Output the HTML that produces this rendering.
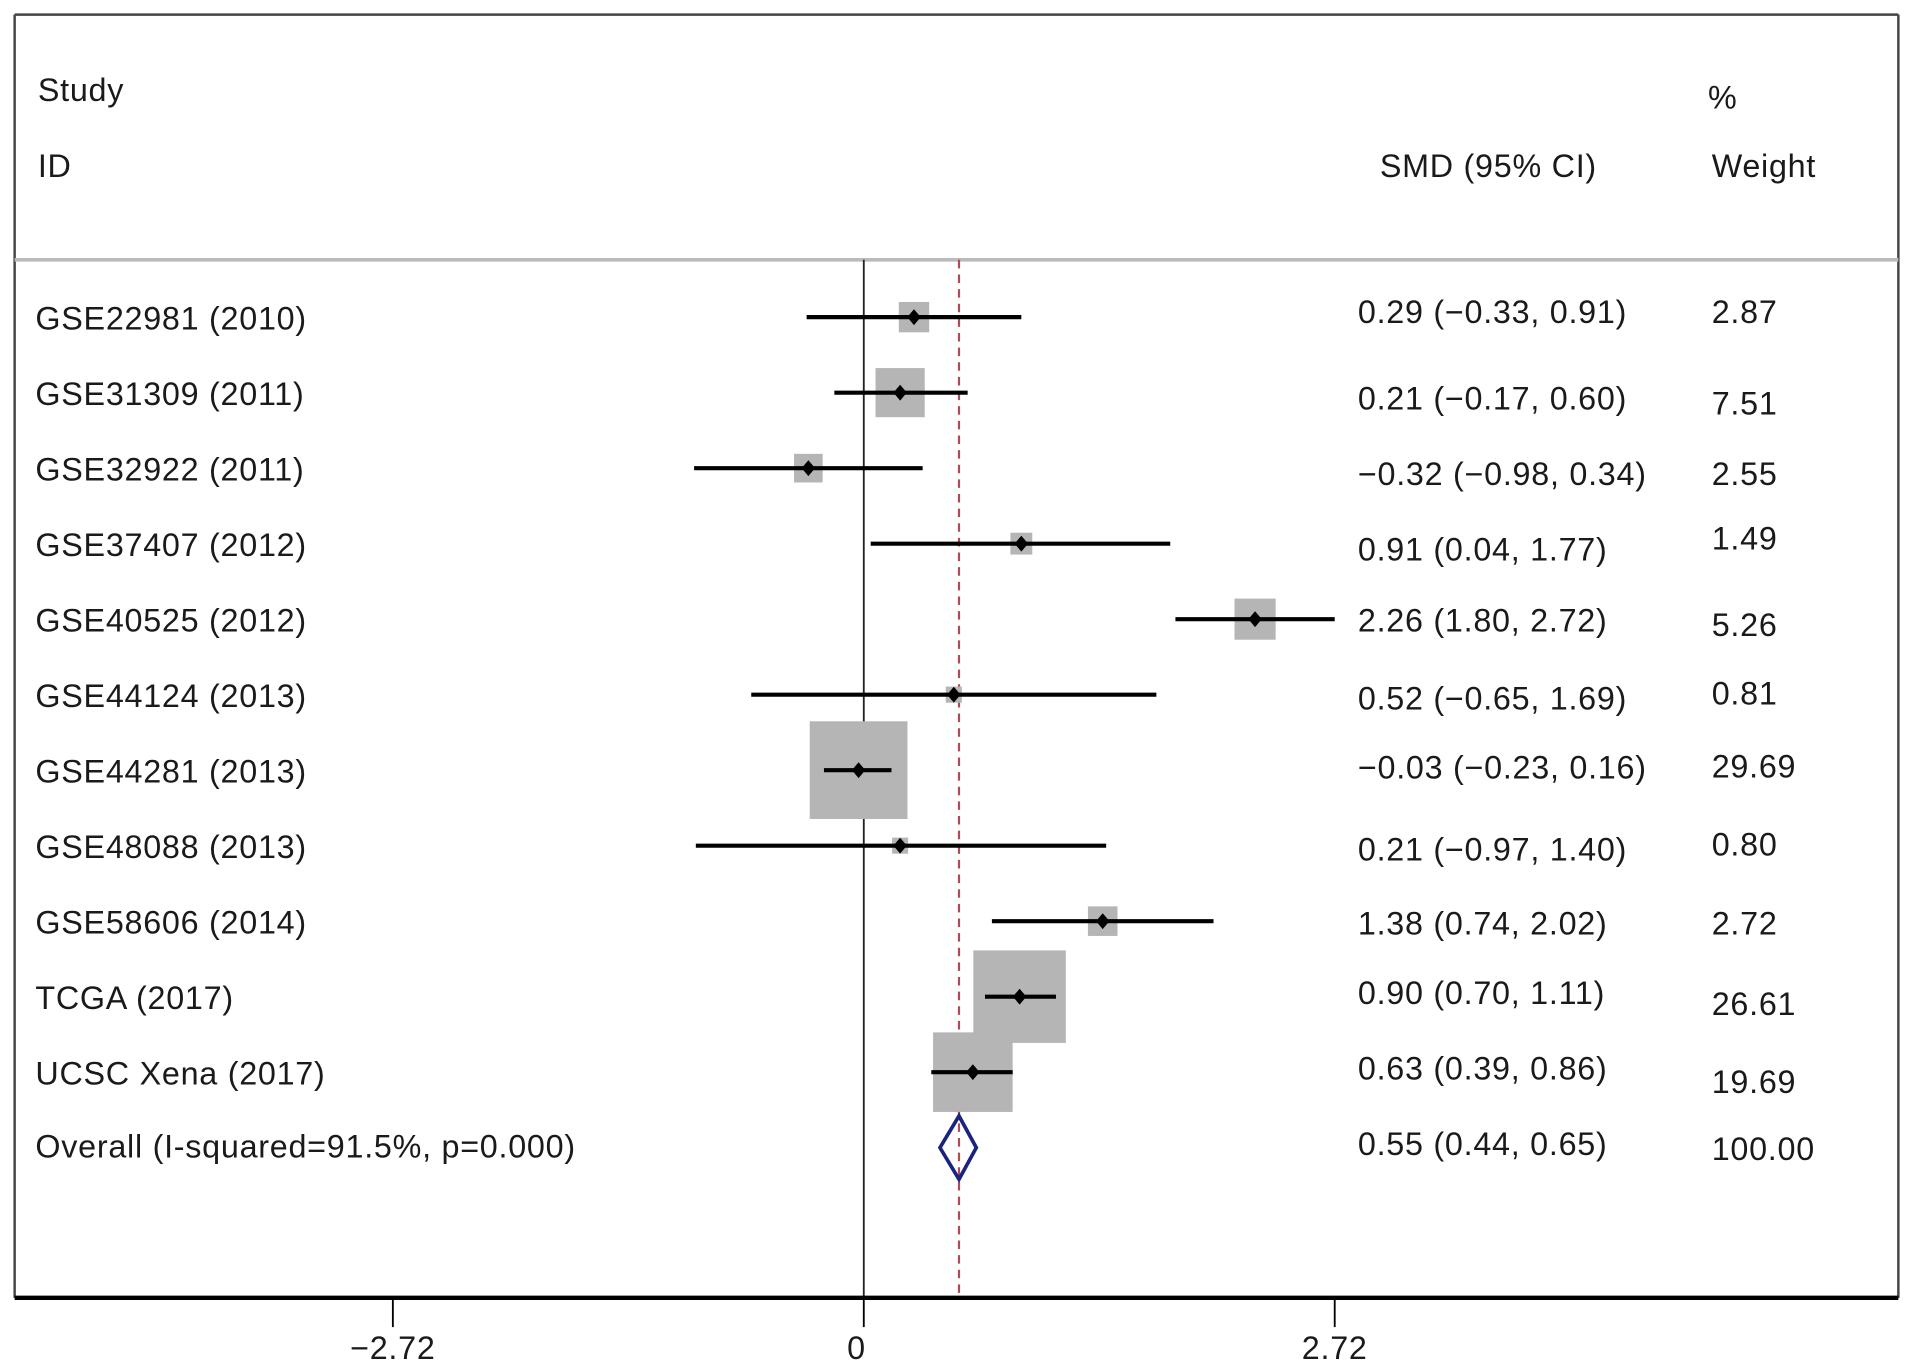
<!DOCTYPE html>
<html><head><meta charset="utf-8"><style>
html,body{margin:0;padding:0;background:#fff;}
svg{display:block;}
text{font-family:"Liberation Sans",Arial,sans-serif;font-size:26.5px;letter-spacing:0.6px;fill:#1a1a1a;}
</style></head><body>
<svg id="chart" width="1913" height="1371" viewBox="0 0 1568 1124" preserveAspectRatio="none" xmlns="http://www.w3.org/2000/svg">
<rect x="0" y="0" width="1568" height="1124" fill="#fff"/>
<line x1="12" y1="12" x2="1556" y2="12" stroke="#444" stroke-width="2"/>
<line x1="12" y1="12" x2="12" y2="1064" stroke="#444" stroke-width="2"/>
<line x1="1556" y1="12" x2="1556" y2="1064" stroke="#444" stroke-width="2"/>
<line x1="12" y1="213" x2="1556" y2="213" stroke="#bbb" stroke-width="3"/>
<text x="31" y="83">Study</text>
<text x="31" y="145">ID</text>
<text x="1131" y="145">SMD (95% CI)</text>
<text x="1400" y="89">%</text>
<text x="1403" y="145">Weight</text>
<g id="plot"></g>
</svg>
<script>
const studies=["GSE22981 (2010)","GSE31309 (2011)","GSE32922 (2011)","GSE37407 (2012)","GSE40525 (2012)","GSE44124 (2013)","GSE44281 (2013)","GSE48088 (2013)","GSE58606 (2014)","TCGA (2017)","UCSC Xena (2017)"];
const smd=[0.29,0.21,-0.32,0.91,2.26,0.52,-0.03,0.21,1.38,0.90,0.63];
const lower=[-0.33,-0.17,-0.98,0.04,1.80,-0.65,-0.23,-0.97,0.74,0.70,0.39];
const upper=[0.91,0.60,0.34,1.77,2.72,1.69,0.16,1.40,2.02,1.11,0.86];
const weights=[2.87,7.51,2.55,1.49,5.26,0.81,29.69,0.80,2.72,26.61,19.69];
const ciText=["0.29 (\u22120.33, 0.91)","0.21 (\u22120.17, 0.60)","\u22120.32 (\u22120.98, 0.34)","0.91 (0.04, 1.77)","2.26 (1.80, 2.72)","0.52 (\u22120.65, 1.69)","\u22120.03 (\u22120.23, 0.16)","0.21 (\u22120.97, 1.40)","1.38 (0.74, 2.02)","0.90 (0.70, 1.11)","0.63 (0.39, 0.86)"];
const overallLabel="Overall (I-squared=91.5%, p=0.000)";
const overallEst=0.55, overallLo=0.44, overallHi=0.65, overallWeight="100.00";
const overallText="0.55 (0.44, 0.65)";
const xTicks=[-2.72,0,2.72];
const xTickLabels=["\u22122.72","0","2.72"];

const NS="http://www.w3.org/2000/svg";
const g=document.getElementById('plot');
const xs=v=>708+v*(386/2.72);
const rowY=i=>260+i*61.9;
const ciOff=[5,14,14,14,10,12,7,12,11,6,6];
const wOff=[5,18,14,5,14,8,6,8,11,15,17];
function mk(tag,attrs,txt){const e=document.createElementNS(NS,tag);for(const k in attrs)e.setAttribute(k,attrs[k]);if(txt!==undefined)e.textContent=txt;g.appendChild(e);return e;}

let e;
e=mk('line',{x1:xs(0),y1:213,x2:xs(0),y2:1064,stroke:'#222','stroke-width':1.5});


e=mk('line',{x1:xs(overallEst),y1:213,x2:xs(overallEst),y2:1064,stroke:'#b04a5a','stroke-width':1.8,'stroke-dasharray':'7,5'});



studies.forEach((s,i)=>{
  const y=rowY(i);
  const side=14.7*Math.sqrt(weights[i]);
  e=mk('rect',{x:xs(smd[i])-side/2,y:y-side/2,width:side,height:side,fill:'#b5b5b5'});
  
  
  e=mk('line',{x1:xs(lower[i]),y1:y,x2:xs(upper[i]),y2:y,stroke:'#000','stroke-width':3.4});
  
  
  const cx=xs(smd[i]);
  e=mk('polygon',{points:`${cx-5.5},${y} ${cx},${y-6.5} ${cx+5.5},${y} ${cx},${y+6.5}`,fill:'#000'});
  
  
  e=mk('text',{x:29,y:y+10},s);
  
  
  e=mk('text',{x:1113,y:y+ciOff[i]},ciText[i]);
  
  
  e=mk('text',{x:1403,y:y+wOff[i]},weights[i].toFixed(2));
  
  
});

const oy=rowY(studies.length);
e=mk('polygon',{points:`${xs(overallLo)},${oy} ${xs(overallEst)},${oy-26} ${xs(overallHi)},${oy} ${xs(overallEst)},${oy+26}`,fill:'none',stroke:'#1a237e','stroke-width':3});


e=mk('text',{x:29,y:oy+8},overallLabel);


e=mk('text',{x:1113,y:oy+6},overallText);


e=mk('text',{x:1403,y:oy+10},overallWeight);



e=mk('line',{x1:12,y1:1064,x2:1556,y2:1064,stroke:'#000','stroke-width':3.5});


xTicks.forEach((t,i)=>{
  e=mk('line',{x1:xs(t),y1:1064,x2:xs(t),y2:1088,stroke:'#000','stroke-width':1.5});
  
  
  e=mk('text',{x:xs(t)-(t===0?6:0),y:1114,'text-anchor':'middle'},xTickLabels[i]);
  
  
});
</script>
</body></html>
